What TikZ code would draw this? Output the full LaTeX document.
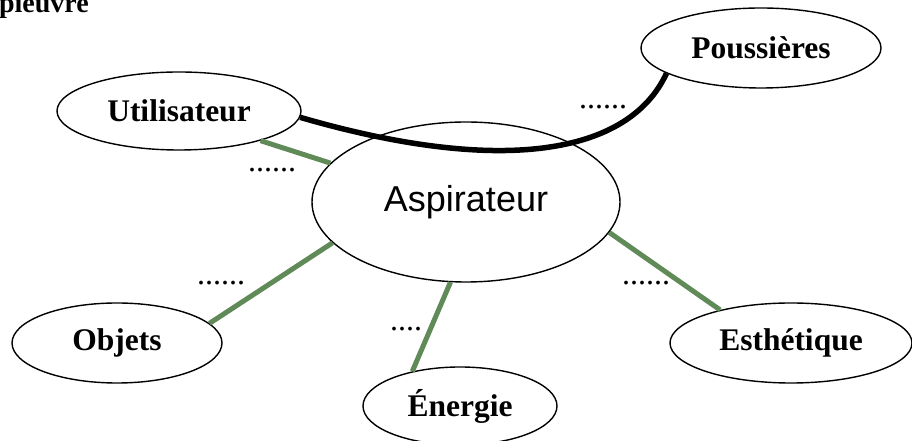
\documentclass[tikz,border=0pt]{standalone}
\usepackage{fontspec}
\setmainfont{Liberation Serif}
\newfontfamily\arialfont{Liberation Sans}
\usetikzlibrary{shapes.geometric,calc}
\definecolor{linkgreen}{RGB}{96,138,88}
\begin{document}
\begin{tikzpicture}[x=1pt,y=1pt,
  bubble/.style={ellipse,draw=black,line width=1.4pt,inner sep=0pt,
    font=\fontsize{31.5}{36}\selectfont\bfseries},
  link/.style={draw=linkgreen,line width=5pt},
  thicklink/.style={draw=black,line width=5.5pt},
  dotlabel/.style={inner sep=0pt,font=\fontsize{32}{36}\selectfont}]
\useasboundingbox (0,0) rectangle (912,441);

% title fragment (cut at the page edge)
\node[anchor=base east,inner sep=0pt,font=\fontsize{28}{32}\selectfont\bfseries] (title) at (89,428) {pieuvre};

% nodes
\node[bubble,minimum width=308pt,minimum height=160pt,font=\arialfont\fontsize{36}{42}\selectfont] (asp) at (466,239) {Aspirateur};
\node[bubble,minimum width=244pt,minimum height=78pt] (util) at (179,330) {Utilisateur};
\node[bubble,minimum width=240pt,minimum height=80pt] (pous) at (761,393) {Poussières};
\node[bubble,minimum width=210pt,minimum height=80pt] (obj) at (117,98) {Objets};
\node[bubble,minimum width=194pt,minimum height=78pt] (ener) at (460,35) {Énergie};
\node[bubble,minimum width=242pt,minimum height=80pt] (esth) at (791,98) {Esthétique};

% connectors
\draw[link] (util.340) -- (asp.164);
\draw[link] (obj.12) -- (asp.197);
\draw[link] (ener.144) -- (asp.259);
\draw[link] (esth.155) -- (asp.348);
\draw[thicklink] (util.357) .. controls ($(util.357)+(200,-58)$) and ($(pous.195)+(-38,-82)$) .. (pous.195);

% dotted placeholders
\node[dotlabel] (d1) at (272,271) {......};
\node[dotlabel] (d2) at (221,158) {......};
\node[dotlabel] (d3) at (406,112) {....};
\node[dotlabel] (d4) at (646,158) {......};
\node[dotlabel] (d5) at (603,334) {......};
\end{tikzpicture}
\end{document}
